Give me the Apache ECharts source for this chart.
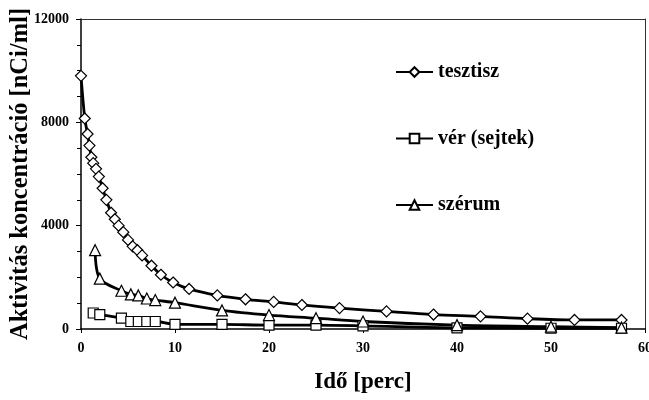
<!DOCTYPE html>
<html>
<head>
<meta charset="utf-8">
<script src="https://cdn.jsdelivr.net/npm/echarts@6/dist/echarts.min.js"></script>
<style>
  html, body { margin: 0; padding: 0; background: #fff; }
  #main { width: 649px; height: 400px; }
</style>
</head>
<body>
<div id="main"></div>
<script>
// idő [perc] es aktivitás koncentráció [nCi/ml]
var tesztiszTime = [0, 0.4, 0.7, 0.9, 1.1, 1.3, 1.6, 1.9, 2.3, 2.7, 3.2, 3.6, 4.0, 4.5, 5.0, 5.5, 6.0, 6.5, 7.5, 8.5, 9.8, 11.5, 14.5, 17.5, 20.5, 23.5, 27.5, 32.5, 37.5, 42.5, 47.5, 52.5, 57.5];
var tesztiszValue = [9800, 8150, 7550, 7100, 6650, 6420, 6200, 5900, 5450, 5000, 4500, 4250, 4000, 3750, 3450, 3200, 3050, 2850, 2450, 2100, 1800, 1550, 1300, 1150, 1050, 930, 810, 680, 560, 490, 400, 350, 350];

var verTime = [1.3, 2, 4.3, 5.3, 6.1, 7, 7.9, 10, 15, 20, 25, 30, 40, 50, 57.5];
var verValue = [620, 560, 420, 290, 290, 290, 290, 180, 180, 150, 150, 120, 40, 30, 30];

var szerumTime = [1.5, 2, 4.3, 5.3, 6.1, 7, 7.9, 10, 15, 20, 25, 30, 40, 50, 57.5];
var szerumValue = [3050, 1950, 1480, 1340, 1300, 1180, 1120, 1020, 720, 540, 420, 290, 150, 90, 50];

var yTicks = [0, 4000, 8000, 12000];
var xTicks = [0, 10, 20, 30, 40, 50, 60];

function pairs(xs, ys) {
  var out = [];
  for (var i = 0; i < xs.length; i++) out.push([xs[i], ys[i]]);
  return out;
}

var font = 'Liberation Serif';

function lineSeries(name, symbol, size, data) {
  return {
    name: name,
    type: 'line',
    smooth: 0.3,
    symbol: symbol,
    symbolSize: size,
    showAllSymbol: true,
    lineStyle: { color: '#000', width: 2.8 },
    itemStyle: { color: '#fff', borderColor: '#000', borderWidth: 1.2 },
    data: data
  };
}

// keret: felso es jobb oldali tengelyvonal
var frameAxis = {
  show: true,
  axisLine: { show: true, onZero: false, lineStyle: { color: '#333', width: 1 } },
  axisTick: { show: false },
  axisLabel: { show: false },
  splitLine: { show: false }
};

var chart = echarts.init(document.getElementById('main'));
chart.setOption({
  animation: false,
  grid: { left: 81, right: 4, top: 19, bottom: 71, outerBoundsMode: 'none', containLabel: false },
  legend: {
    orient: 'vertical',
    left: 390,
    top: 57,
    itemGap: 46.5,
    itemWidth: 37,
    itemHeight: 12,
    textStyle: { fontFamily: font, fontWeight: 'bold', fontSize: 20, color: '#000' },
    data: ['tesztisz', 'vér (sejtek)', 'szérum']
  },
  xAxis: [{
    type: 'value',
    min: 0, max: 60, interval: 10,
    name: 'Idő [perc]',
    nameLocation: 'middle',
    nameGap: 42,
    nameMoveOverlap: false,
    nameTextStyle: { fontFamily: font, fontWeight: 'bold', fontSize: 23, color: '#000' },
    axisLine: { lineStyle: { color: '#000', width: 1.5 } },
    axisTick: { show: true, length: 4, lineStyle: { color: '#000' } },
    axisLabel: {
      fontFamily: font, fontWeight: 'bold', fontSize: 14, color: '#000', margin: 12,
      formatter: function (v) { return xTicks.indexOf(v) >= 0 ? String(v) : ''; }
    },
    splitLine: { show: false }
  }, Object.assign({ type: 'value', position: 'top', min: 0, max: 60 }, frameAxis)],
  yAxis: [{
    type: 'value',
    min: 0, max: 12000, interval: 4000,
    name: 'Aktivitás koncentráció [nCi/ml]',
    nameLocation: 'middle',
    nameGap: 48,
    nameMoveOverlap: false,
    nameTextStyle: { fontFamily: font, fontWeight: 'bold', fontSize: 24.5, color: '#000' },
    axisLine: { show: true, lineStyle: { color: '#000', width: 1.5 } },
    axisTick: { show: true, length: 5, lineStyle: { color: '#000' } },
    minorTick: { show: true, splitNumber: 4, length: 4, lineStyle: { color: '#000' } },
    axisLabel: {
      fontFamily: font, fontWeight: 'bold', fontSize: 14, color: '#000', margin: 12,
      formatter: function (v) { return yTicks.indexOf(v) >= 0 ? String(v) : ''; }
    },
    splitLine: { show: false }
  }, Object.assign({ type: 'value', position: 'right', min: 0, max: 12000 }, frameAxis)],
  series: [
    lineSeries('tesztisz', 'diamond', 11, pairs(tesztiszTime, tesztiszValue)),
    lineSeries('vér (sejtek)', 'rect', 10, pairs(verTime, verValue)),
    lineSeries('szérum', 'triangle', 11, pairs(szerumTime, szerumValue))
  ]
});
</script>
</body>
</html>
